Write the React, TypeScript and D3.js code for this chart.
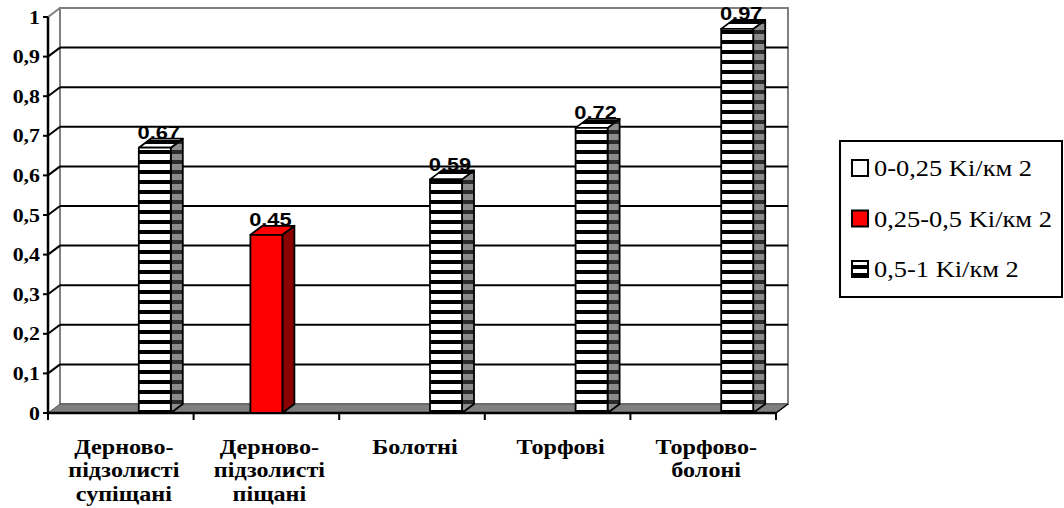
import React from "react";
import * as d3 from "d3";

const categories = [
  "Дерново-\nпідзолисті\nсупіщані",
  "Дерново-\nпідзолисті\nпіщані",
  "Болотні",
  "Торфові",
  "Торфово-\nболоні",
];
const seriesNames = ["0-0,25 Ki/км 2", "0,25-0,5 Ki/км 2", "0,5-1 Ki/км 2"];
const series1: (number | null)[] = [null, null, null, null, null];
const series2: (number | null)[] = [null, 0.45, null, null, null];
const series3: (number | null)[] = [0.67, null, 0.59, 0.72, 0.97];
const yTicks = [0, 0.1, 0.2, 0.3, 0.4, 0.5, 0.6, 0.7, 0.8, 0.9, 1];
const tickLabels = ["0", "0,1", "0,2", "0,3", "0,4", "0,5", "0,6", "0,7", "0,8", "0,9", "1"];

const SX = 1.15;
const DX = 12;
const DY = -9;
const BAR_W = 32;
const SERIF = "Liberation Serif";
const SANS = "Liberation Sans";

export default function App() {
  const y = d3.scaleLinear().domain([0, 1]).range([413, 17]);
  const x0 = d3.scaleBand<string>().domain(categories).range([48, 776]).padding(0);
  const x1 = d3.scaleBand<string>().domain(seriesNames).range([-51, 51]).padding(0);
  const allSeries = [series1, series2, series3];
  const left = x0.range()[0];
  const right = x0.range()[1];
  const y0 = y(0);
  const yTop = y(1);

  const bars: { cat: string; s: number; v: number }[] = [];
  categories.forEach((c, ci) => {
    allSeries.forEach((arr, si) => {
      const v = arr[ci];
      if (v != null) bars.push({ cat: c, s: si, v });
    });
  });

  const fills = [
    { front: "#ffffff", side: "#c0c0c0", top: "#ffffff" },
    { front: "#ff0000", side: "#8b0000", top: "#ff0000" },
    { front: "url(#stripeFront)", side: "url(#stripeSide)", top: "url(#stripeFront)" },
  ];

  const sText = (
    x: number,
    yy: number,
    content: React.ReactNode,
    family: string,
    size: number,
    weight: string,
    anchor: string
  ) => (
    <g transform={`translate(${x},${yy}) scale(${SX},1)`}>
      <text
        x={0}
        y={0}
        textAnchor={anchor}
        style={{ fontFamily: family, fontSize: `${size}px`, fontWeight: weight as any }}
      >
        {content}
      </text>
    </g>
  );

  return (
    <svg
      width={1064}
      height={508}
      style={{ position: "absolute", left: 0, top: 0, background: "#fff" }}
    >
      <defs>
        <pattern id="stripeFront" patternUnits="userSpaceOnUse" width={8} height={10}>
          <rect width={8} height={10} fill="#ffffff" />
          <rect width={8} height={4} fill="#000000" />
        </pattern>
        <pattern id="stripeSide" patternUnits="userSpaceOnUse" width={8} height={10}>
          <rect width={8} height={10} fill="#8c8c8c" />
          <rect width={8} height={4} fill="#2a2a2a" />
        </pattern>
        <pattern id="stripeKey" patternUnits="userSpaceOnUse" x={0} y={1} width={8} height={8}>
          <rect width={8} height={8} fill="#ffffff" />
          <rect width={8} height={4} fill="#000000" />
        </pattern>
      </defs>

      {/* back wall */}
      <rect
        x={left + DX}
        y={yTop + DY}
        width={right - left}
        height={y0 - yTop}
        fill="#fff"
        stroke="#808080"
        strokeWidth={2}
      />
      <line x1={left} y1={yTop} x2={left + DX} y2={yTop + DY} stroke="#808080" strokeWidth={2} />

      {/* gridlines */}
      {yTicks
        .filter((t) => t > 0 && t < 1)
        .map((t) => (
          <g key={t}>
            <line x1={left + DX} x2={right + DX} y1={y(t) + DY} y2={y(t) + DY} stroke="#000" strokeWidth={2} />
            <line x1={left} x2={left + DX} y1={y(t)} y2={y(t) + DY} stroke="#000" strokeWidth={2} />
          </g>
        ))}

      {/* floor */}
      <polygon
        points={`${left},${y0} ${left + DX},${y0 + DY} ${right + DX},${y0 + DY} ${right},${y0}`}
        fill="#808080"
        stroke="#555"
        strokeWidth={1}
      />

      {/* axes */}
      <line x1={left} x2={left} y1={yTop} y2={y0 + 1} stroke="#000" strokeWidth={2.5} />
      <line x1={left} x2={right} y1={y0} y2={y0} stroke="#000" strokeWidth={2.5} />
      <line x1={right} x2={right + DX} y1={y0} y2={y0 + DY} stroke="#000" strokeWidth={1.5} />
      {yTicks.map((t) => (
        <line key={t} x1={left - 5} x2={left} y1={y(t)} y2={y(t)} stroke="#000" strokeWidth={2} />
      ))}
      {[...categories.map((c) => x0(c)!), right].map((xx, i) => (
        <line key={i} x1={xx} x2={xx} y1={y0} y2={y0 + 7} stroke="#000" strokeWidth={2} />
      ))}

      {/* y tick labels */}
      {yTicks.map((t, i) => (
        <React.Fragment key={t}>
          {sText(40, y(t) + 6.5, tickLabels[i], SERIF, 19, "bold", "end")}
        </React.Fragment>
      ))}

      {/* bars */}
      {bars.map((b, i) => {
        const cx = x0(b.cat)! + x0.bandwidth() / 2 + x1(seriesNames[b.s])! + x1.bandwidth() / 2;
        const xl = cx - BAR_W / 2;
        const xr = cx + BAR_W / 2;
        const yt = y(b.v);
        const f = fills[b.s];
        return (
          <g key={i} stroke="#000" strokeWidth={1.8} strokeLinejoin="round">
            <polygon
              points={`${xr},${yt} ${xr + DX},${yt + DY} ${xr + DX},${y0 + DY} ${xr},${y0}`}
              fill={f.side}
            />
            <polygon
              points={`${xl},${yt} ${xl + DX},${yt + DY} ${xr + DX},${yt + DY} ${xr},${yt}`}
              fill={f.top}
            />
            <rect x={xl} y={yt} width={BAR_W} height={y0 - yt} fill={f.front} />
          </g>
        );
      })}

      {/* data labels */}
      {bars.map((b, i) => {
        const cx = x0(b.cat)! + x0.bandwidth() / 2 + x1(seriesNames[b.s])! + x1.bandwidth() / 2;
        return (
          <React.Fragment key={i}>
            {sText(cx + 4, y(b.v) + DY + 0.5, b.v.toFixed(2), SANS, 19, "bold", "middle")}
          </React.Fragment>
        );
      })}

      {/* category labels */}
      {categories.map((c) => {
        const cx = x0(c)! + x0.bandwidth() / 2 + 3;
        const lines = c.split("\n");
        return (
          <g key={c} transform={`translate(${cx},0) scale(${SX},1)`}>
            <text
              textAnchor="middle"
              style={{ fontFamily: SERIF, fontWeight: "bold", fontSize: "21px" }}
            >
              {lines.map((l, li) => (
                <tspan key={li} x={0} y={454 + li * 23.5}>
                  {l}
                </tspan>
              ))}
            </text>
          </g>
        );
      })}

      {/* legend */}
      <rect x={840} y={141} width={222} height={156} fill="#fff" stroke="#000" strokeWidth={2} />
      {seriesNames.map((s, i) => {
        const by = 176 + i * 50.5;
        return (
          <g key={s}>
            <rect
              x={852}
              y={by - 16}
              width={16}
              height={16}
              fill={i === 0 ? "#fff" : i === 1 ? "#ff0000" : "url(#stripeKey)"}
              stroke="#000"
              strokeWidth={2}
            />
            {sText(874, by, s, SERIF, 23, "normal", "start")}
          </g>
        );
      })}
    </svg>
  );
}
